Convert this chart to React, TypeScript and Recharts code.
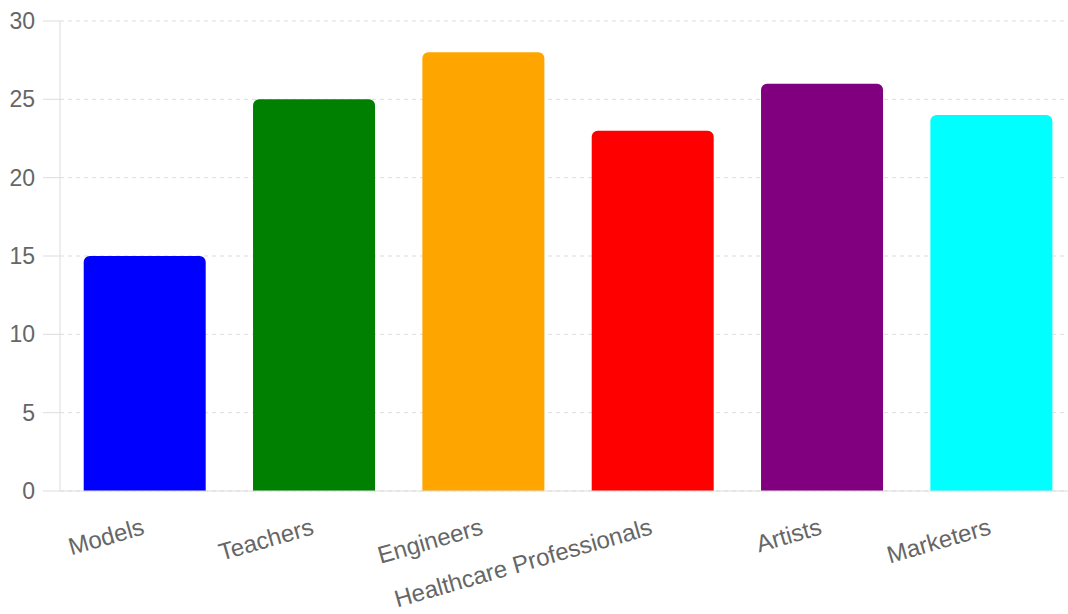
import { Bar, BarChart, CartesianGrid, Cell, XAxis, YAxis } from "recharts";

const categories = ["Models", "Teachers", "Engineers", "Healthcare Professionals", "Artists", "Marketers"];
const counts = [15, 25, 28, 23, 26, 24];
const barColors = ["#0000ff", "#008000", "#ffa500", "#ff0000", "#800080", "#00ffff"];
const yTicks = [0, 5, 10, 15, 20, 25, 30];

const data = categories.map((name, i) => ({ name, value: counts[i] }));

const font = "'Liberation Sans', Arial, Helvetica, sans-serif";

const XTick = (props: any) => {
  const { x, y, payload } = props;
  return (
    <g transform={`translate(${x + 1},${y + 43})`}>
      <text x={0} y={0} textAnchor="end" transform="rotate(-16)" fill="#666" fontSize={24} fontFamily={font}>
        {payload.value}
      </text>
    </g>
  );
};

export default function App() {
  return (
    <div style={{ position: "absolute", left: 0, top: 0, background: "#fff", width: 1068, height: 614, overflow: "hidden" }}>
      <BarChart
        width={1068}
        height={614}
        data={data}
        margin={{ top: 21, right: -8, left: 0, bottom: 0 }}
        barCategoryGap="14%"
        style={{ overflow: "hidden" }}
      >
        <CartesianGrid vertical={false} strokeDasharray="4 4" stroke="#dddddd" />
        <XAxis
          dataKey="name"
          height={123}
          interval={0}
          tickLine={false}
          tickSize={0}
          tickMargin={0}
          axisLine={{ stroke: "#dddddd" }}
          tick={<XTick />}
        />
        <YAxis
          width={60}
          domain={[0, 30]}
          ticks={yTicks}
          tickSize={17}
          tickMargin={8}
          tickLine={{ stroke: "#dddddd" }}
          axisLine={{ stroke: "#dddddd" }}
          tick={{ fill: "#666", fontSize: 23, fontFamily: font }}
        />
        <Bar dataKey="value" radius={[6, 6, 0, 0]} isAnimationActive={false}>
          {data.map((d, i) => (
            <Cell key={d.name} fill={barColors[i]} />
          ))}
        </Bar>
      </BarChart>
    </div>
  );
}
